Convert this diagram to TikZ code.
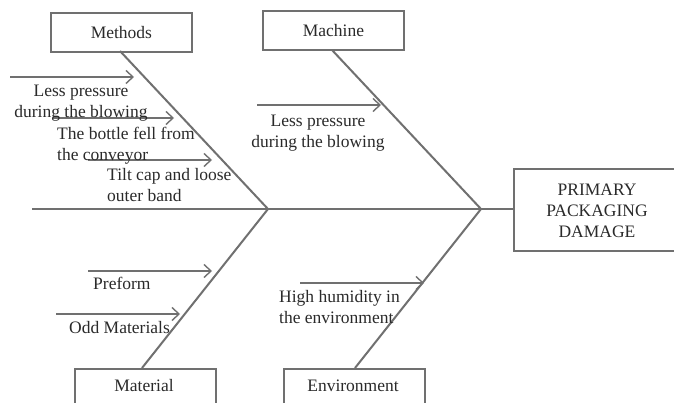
\documentclass[tikz,border=0pt]{standalone}
\usepackage{fontspec}
\setmainfont{Liberation Serif}
\usetikzlibrary{arrows.meta}
\definecolor{lc}{HTML}{707070}
\definecolor{tc}{HTML}{2A2A2A}
\tikzset{
  bone/.style={draw=lc, line width=2pt},
  catbox/.style={draw=lc, line width=1.8pt, minimum width=141pt, minimum height=39pt, inner sep=0pt, text=tc, font=\fontsize{17.5}{21}\selectfont, anchor=north west},
  cause/.style={draw=lc, line width=1.6pt, -{Straight Barb[length=7pt, width=13pt, line width=1.4pt]}},
  lbl/.style={text=tc, font=\fontsize{17.5}{21}\selectfont, inner sep=0pt, align=left, anchor=north west},
  lblc/.style={text=tc, font=\fontsize{17.5}{21}\selectfont, inner sep=0pt, align=center, anchor=north}
}
\begin{document}
\begin{tikzpicture}[x=1pt, y=-1pt]
\useasboundingbox (0,0) rectangle (674,403);
\clip (0,0) rectangle (674,403);
\fill[white] (0,0) rectangle (674,403);
% boxes
\node[catbox] (methods) at (50,12) {Methods};
\node[catbox] (machine) at (262,10) {Machine};
\node[catbox, minimum height=60pt] (material) at (74,368) {};
\node[text=tc, font=\fontsize{17.5}{21}\selectfont] (materialt) at (144,386) {Material};
\node[catbox, minimum height=60pt] (environment) at (283,368) {};
\node[text=tc, font=\fontsize{17.5}{21}\selectfont] (environmentt) at (353,386) {Environment};
\node[draw=lc, line width=1.8pt, minimum width=200pt, minimum height=82pt, anchor=north west, inner sep=0pt] (effect) at (513,168) {};
\node[text=tc, font=\fontsize{17.5}{21}\selectfont, align=center, inner sep=0pt] (effectt) at (597,211) {PRIMARY\\PACKAGING\\DAMAGE};
% spine
\coordinate (tail) at (32,209);
\coordinate (j1) at (268,209);
\coordinate (j2) at (481,209);
\draw[bone] (tail) -- (effect.west |- tail);
% diagonal bones
\coordinate (m1) at (120,51);
\coordinate (m2) at (332,50);
\coordinate (b1) at (142,368);
\coordinate (b2) at (355,368);
\draw[bone] (m1) -- (j1) -- (b1);
\draw[bone] (m2) -- (j2) -- (b2);
% methods causes
\coordinate (a1s) at (10,77);   \coordinate (a1e) at (134,77);
\coordinate (a2s) at (52,118);  \coordinate (a2e) at (174,118);
\coordinate (a3s) at (88,160);  \coordinate (a3e) at (212,160);
\draw[cause] (a1s) -- (a1e);
\draw[cause] (a2s) -- (a2e);
\draw[cause] (a3s) -- (a3e);
\node[lblc] (t1) at (81,85) {Less pressure\\during the blowing};
\node[lbl] (t2) at (57,127) {The bottle fell from\\the conveyor};
\node[lbl] (t3) at (107,168) {Tilt cap and loose\\outer band};
% machine cause
\coordinate (a4s) at (257,105); \coordinate (a4e) at (381,105);
\draw[cause] (a4s) -- (a4e);
\node[lblc] (t4) at (318,115) {Less pressure\\during the blowing};
% material causes
\coordinate (a5s) at (88,271);  \coordinate (a5e) at (212,271);
\coordinate (a6s) at (56,314);  \coordinate (a6e) at (180,314);
\draw[cause] (a5s) -- (a5e);
\draw[cause] (a6s) -- (a6e);
\node[lbl] (t5) at (93,277) {Preform};
\node[lbl] (t6) at (69,321) {Odd Materials};
% environment cause
\coordinate (a7s) at (300,283); \coordinate (a7e) at (424,283);
\draw[cause] (a7s) -- (a7e);
\node[lbl] (t7) at (279,290) {High humidity in\\the environment};
\end{tikzpicture}
\end{document}
